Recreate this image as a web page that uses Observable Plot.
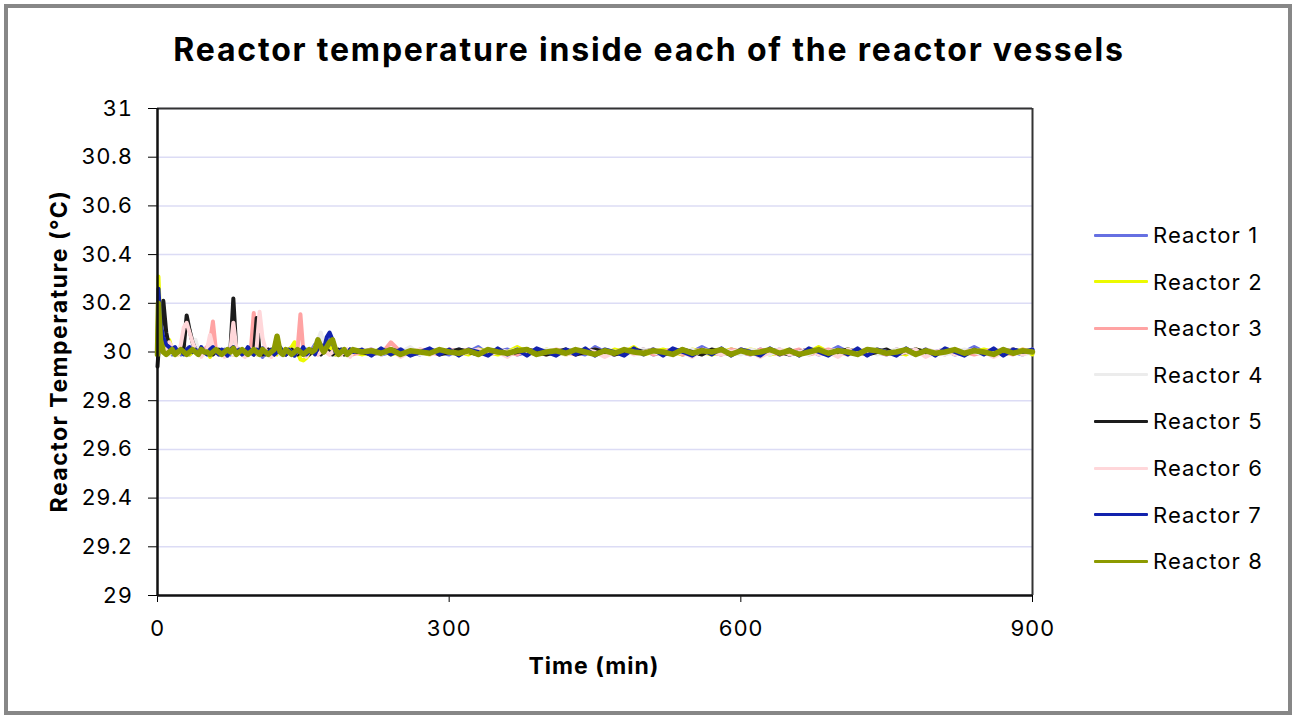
<!DOCTYPE html>
<html>
<head>
<meta charset="utf-8">
<script src="https://cdn.jsdelivr.net/npm/d3@7"></script>
<script src="https://cdn.jsdelivr.net/npm/@observablehq/plot@0.6"></script>
<style>
  html, body { margin: 0; padding: 0; background: #fff; }
  #wrap { position: relative; width: 1292px; height: 715px; overflow: hidden; font-family: Inter, "DejaVu Sans", sans-serif; color: #000; }
  #frame { position: absolute; left: 4px; top: 4px; width: 1288px; height: 711px; box-sizing: border-box; border: 4px solid #878787; pointer-events: none; }
  #chart { position: absolute; left: 0; top: 0; }
  #title { position: absolute; left: 0; top: 30px; width: 1298px; text-align: center; font-weight: 700; font-size: 32px; letter-spacing: 1.8px; line-height: 40px; }
  #ylabel { position: absolute; left: 59px; top: 351px; transform: translate(-50%, -50%) rotate(-90deg); font-weight: 700; font-size: 23px; letter-spacing: 1.5px; white-space: nowrap; }
  #xlabel { position: absolute; left: 594px; top: 666px; transform: translate(-50%, -50%); font-weight: 700; font-size: 23px; letter-spacing: 1px; white-space: nowrap; }
  #legend { position: absolute; left: 1094px; top: 0; }
  .item { position: absolute; left: 0; height: 30px; display: flex; align-items: center; white-space: nowrap; font-size: 22px; letter-spacing: 1.1px; }
  .sw { width: 54px; height: 3px; margin-right: 5px; border-radius: 1px; }
</style>
</head>
<body>
<div id="wrap">
  <div id="chart"></div>
  <div id="title">Reactor temperature inside each of the reactor vessels</div>
  <div id="ylabel">Reactor Temperature (°C)</div>
  <div id="xlabel">Time (min)</div>
  <div id="legend"></div>
  <div id="frame"></div>
</div>
<script>
// ---- Data ----
const reactorNames = ["Reactor 1", "Reactor 2", "Reactor 3", "Reactor 4", "Reactor 5", "Reactor 6", "Reactor 7", "Reactor 8"];
const reactorColors = ["#6670e2", "#ecfa00", "#ffa3a3", "#ececec", "#1c1c1c", "#ffd7da", "#1222ad", "#8c9a00"];
const xTicks = [0, 300, 600, 900];
const yTicks = [29, 29.2, 29.4, 29.6, 29.8, 30, 30.2, 30.4, 30.6, 30.8, 31];

const minutesEarly = [0, 1, 3, 6, 9, 12, 15, 18, 21, 24, 27, 30, 33, 36, 39, 42, 45, 48, 51, 54, 57, 60, 63, 66, 69, 72, 75, 78, 81, 84, 87, 90, 93, 96, 99, 102, 105, 108, 111, 114, 117, 120, 123, 126, 129, 132, 135, 138, 141, 144, 147, 150, 153, 156, 159, 162, 165, 168, 171, 174, 177, 180, 183, 186, 189, 192, 195, 198, 201];
const minutesLate = [210, 220, 230, 240, 250, 260, 270, 280, 290, 300, 310, 320, 330, 340, 350, 360, 370, 380, 390, 400, 410, 420, 430, 440, 450, 460, 470, 480, 490, 500, 510, 520, 530, 540, 550, 560, 570, 580, 590, 600, 610, 620, 630, 640, 650, 660, 670, 680, 690, 700, 710, 720, 730, 740, 750, 760, 770, 780, 790, 800, 810, 820, 830, 840, 850, 860, 870, 880, 890, 900];

const reactor1 = [
  30.00, 30.15, 30.06, 30.02, 30.01, 30.00, 29.99, 30.01, 30.00, 29.99,
  30.01, 30.00, 29.99, 30.00, 30.01, 29.99, 30.00, 30.01, 30.00, 29.99,
  30.00, 30.01, 29.99, 30.00, 30.01, 30.00, 29.99, 30.00, 30.01, 30.00,
  29.99, 30.00, 30.01, 30.00, 29.99, 30.00, 30.01, 29.98, 30.00, 30.01,
  30.00, 29.99, 30.00, 30.01, 30.00, 29.99, 30.00, 30.01, 30.00, 29.99,
  30.00, 29.99, 30.01, 30.00, 30.01, 30.03, 30.02, 30.04, 30.03, 30.05,
  30.06, 30.02, 29.99, 30.00, 30.01, 30.00, 29.99, 30.01, 30.00,
  30.00, 30.01, 29.99, 30.00, 30.01, 30.00, 29.99, 30.01, 30.00, 29.99,
  30.01, 30.00, 30.02, 29.99, 30.00, 30.01, 29.99, 30.00, 30.01, 30.00,
  29.99, 30.01, 30.00, 29.99, 30.02, 30.00, 29.99, 30.01, 30.00, 30.01,
  29.99, 30.00, 30.01, 29.99, 30.00, 30.02, 30.00, 29.99, 30.01, 30.00,
  29.99, 30.01, 30.00, 30.01, 29.99, 30.00, 30.01, 29.99, 30.00, 30.02,
  30.00, 29.99, 30.01, 30.00, 29.99, 30.01, 30.00, 30.01, 29.99, 30.00,
  30.01, 29.99, 30.00, 30.02, 30.00, 29.99, 30.01, 30.00, 29.99, 30.01
];
const reactor2 = [
  30.00, 30.31, 30.10, 30.03, 30.01, 30.05, 30.01, 30.00, 29.99, 30.00,
  30.01, 30.00, 29.99, 30.00, 30.01, 30.00, 29.99, 30.00, 30.01, 29.98,
  30.00, 30.01, 30.00, 29.99, 30.00, 30.01, 30.00, 29.99, 30.00, 30.01,
  30.00, 29.99, 30.00, 30.01, 30.00, 29.99, 30.01, 30.00, 29.99, 30.00,
  30.01, 30.00, 29.99, 30.00, 30.01, 30.00, 30.01, 30.02, 30.04, 30.00,
  29.97, 29.965, 29.975, 29.99, 30.00, 30.02, 30.04, 30.07, 30.02, 30.01,
  30.02, 30.00, 29.99, 30.00, 30.01, 29.99, 30.00, 30.01, 30.00,
  29.99, 30.00, 30.01, 29.99, 30.00, 30.01, 30.00, 29.99, 30.01, 30.00,
  30.00, 29.99, 30.01, 30.00, 29.99, 30.00, 30.02, 30.00, 29.99, 30.01,
  30.00, 29.99, 30.00, 30.01, 30.00, 29.99, 30.01, 30.00, 30.02, 29.99,
  30.00, 30.01, 30.00, 29.99, 30.01, 30.00, 29.99, 30.00, 30.01, 30.00,
  30.01, 30.00, 29.99, 30.00, 30.01, 29.99, 30.00, 30.02, 30.00, 29.99,
  30.01, 30.00, 29.99, 30.01, 30.00, 30.00, 29.99, 30.01, 30.00, 29.99,
  30.00, 30.01, 29.99, 30.00, 30.01, 30.00, 29.99, 30.00, 30.01, 29.99
];
const reactor3 = [
  30.00, 30.05, 30.02, 30.00, 29.99, 30.01, 30.00, 29.99, 30.00, 30.01,
  30.00, 29.99, 30.00, 30.01, 30.00, 29.99, 30.00, 30.01, 30.02, 30.04,
  30.125, 30.01, 30.00, 29.99, 30.00, 30.01, 30.00, 29.99, 30.00, 30.01,
  30.00, 29.99, 30.00, 30.01, 30.16, 30.01, 30.00, 29.99, 30.00, 30.01,
  30.00, 29.99, 30.00, 30.01, 30.00, 29.99, 30.00, 30.01, 30.00, 30.01,
  30.155, 30.00, 29.99, 30.00, 30.01, 30.00, 29.99, 30.00, 30.01, 30.00,
  29.99, 30.00, 30.01, 30.00, 29.99, 30.00, 30.01, 30.00, 29.99,
  30.00, 30.01, 29.99, 30.04, 30.00, 29.99, 30.01, 30.00, 29.99, 30.01,
  30.00, 30.01, 29.99, 30.00, 30.01, 30.00, 29.99, 30.01, 30.00, 29.99,
  30.01, 30.00, 29.99, 30.00, 30.01, 30.00, 29.99, 30.01, 30.00, 30.01,
  29.99, 30.00, 30.01, 29.99, 30.00, 30.01, 30.00, 29.99, 30.01, 30.00,
  29.99, 30.01, 30.00, 29.99, 30.00, 30.01, 29.99, 30.00, 30.01, 30.00,
  29.99, 30.00, 30.01, 30.00, 29.99, 30.01, 30.00, 29.99, 30.01, 30.00,
  29.99, 30.01, 30.00, 29.99, 30.00, 30.01, 30.00, 29.99, 30.01, 30.00
];
const reactor4 = [
  30.00, 30.10, 30.04, 30.01, 30.00, 29.99, 30.00, 30.01, 30.00, 30.02,
  30.03, 30.02, 30.01, 30.03, 30.05, 30.01, 30.00, 29.99, 30.00, 30.01,
  30.00, 30.01, 30.00, 29.99, 30.00, 30.01, 30.00, 29.99, 30.00, 30.01,
  30.00, 29.99, 30.00, 30.01, 30.00, 29.99, 30.00, 30.01, 30.00, 29.99,
  30.00, 30.01, 30.00, 29.99, 30.00, 30.01, 30.00, 29.99, 30.00, 30.01,
  30.00, 29.99, 30.00, 30.01, 30.00, 30.02, 30.05, 30.08, 30.03, 30.01,
  30.00, 29.99, 30.00, 30.01, 30.00, 29.99, 30.00, 30.01, 30.00,
  30.01, 30.00, 29.99, 30.01, 30.00, 30.02, 29.99, 30.00, 30.01, 30.00,
  29.99, 30.01, 30.00, 29.99, 30.01, 30.00, 30.01, 29.99, 30.00, 30.01,
  30.00, 29.99, 30.01, 30.00, 29.99, 30.01, 30.00, 29.99, 30.00, 30.01,
  30.00, 29.99, 30.01, 30.00, 30.01, 29.99, 30.00, 30.01, 30.00, 29.99,
  30.01, 30.00, 29.99, 30.01, 30.00, 30.00, 29.99, 30.01, 30.00, 30.01,
  29.99, 30.00, 30.01, 29.99, 30.00, 30.01, 30.00, 29.99, 30.01, 30.00,
  29.99, 30.00, 30.01, 30.00, 29.99, 30.01, 30.00, 30.01, 29.99, 30.00
];
const reactor5 = [
  29.94, 30.00, 30.05, 30.21, 30.08, 30.02, 30.00, 29.99, 30.00, 30.01,
  30.02, 30.15, 30.09, 30.04, 30.01, 30.00, 29.99, 30.00, 30.01, 30.00,
  29.99, 30.00, 30.01, 30.00, 29.99, 30.00, 30.01, 30.22, 30.01, 30.00,
  29.99, 30.00, 30.01, 30.00, 29.99, 30.14, 30.00, 29.99, 30.00, 30.01,
  30.00, 29.99, 30.00, 30.01, 30.00, 29.99, 30.00, 30.01, 30.00, 29.99,
  30.00, 30.01, 30.00, 29.99, 30.00, 30.01, 30.00, 29.99, 30.00, 30.01,
  30.00, 29.99, 30.00, 30.01, 30.00, 29.99, 30.00, 30.01, 30.00,
  30.00, 29.99, 30.00, 30.01, 30.00, 29.99, 30.00, 30.01, 29.99, 30.00,
  30.01, 30.00, 29.99, 30.01, 30.00, 29.99, 30.00, 30.01, 30.00, 29.99,
  30.00, 30.01, 29.99, 30.00, 30.01, 30.00, 29.99, 30.00, 30.01, 30.00,
  30.01, 29.99, 30.00, 30.01, 30.00, 29.99, 30.01, 30.00, 29.99, 30.01,
  30.00, 29.99, 30.01, 30.00, 29.99, 30.00, 30.01, 30.00, 29.99, 30.00,
  30.01, 30.00, 29.99, 30.00, 30.01, 29.99, 30.00, 30.01, 30.00, 29.99,
  30.01, 30.00, 29.99, 30.01, 30.00, 29.99, 30.00, 30.01, 30.00, 30.00
];
const reactor6 = [
  30.00, 30.08, 30.03, 30.01, 30.00, 30.04, 30.02, 30.00, 29.99, 30.03,
  30.10, 30.12, 30.08, 30.04, 30.01, 30.00, 29.98, 30.00, 30.01, 30.07,
  30.02, 30.00, 29.99, 30.00, 29.98, 30.00, 30.01, 30.12, 30.02, 30.00,
  29.99, 29.98, 30.00, 30.01, 30.00, 30.02, 30.165, 30.06, 30.01, 29.99,
  29.98, 30.00, 30.01, 30.00, 29.99, 30.00, 30.01, 30.00, 29.99, 30.00,
  30.01, 30.00, 29.98, 30.00, 30.01, 30.00, 29.99, 30.00, 30.01, 30.00,
  29.99, 30.00, 30.01, 30.00, 29.99, 30.00, 30.01, 29.98, 30.00,
  30.01, 29.99, 30.00, 30.01, 29.98, 30.00, 30.01, 29.99, 30.00, 30.01,
  29.99, 30.00, 30.01, 29.99, 30.00, 29.98, 30.01, 30.00, 29.99, 30.00,
  30.01, 29.99, 30.00, 30.01, 30.00, 29.98, 30.00, 30.01, 29.99, 30.00,
  30.01, 30.00, 29.99, 30.00, 29.98, 30.01, 30.00, 29.99, 30.00, 30.01,
  30.00, 29.98, 30.00, 30.01, 29.99, 30.00, 30.01, 29.99, 30.00, 29.98,
  30.01, 30.00, 29.99, 30.01, 30.00, 29.99, 30.00, 30.01, 29.98, 30.00,
  30.01, 29.99, 30.00, 30.01, 30.00, 29.98, 30.00, 30.01, 29.99, 30.01
];
const reactor7 = [
  30.00, 30.26, 30.12, 30.06, 30.03, 30.02, 30.01, 30.02, 30.00, 30.01,
  29.99, 30.01, 30.02, 30.00, 30.01, 29.99, 30.02, 30.00, 29.99, 30.01,
  30.02, 30.00, 29.99, 30.01, 30.00, 29.985, 30.01, 30.02, 30.00, 30.01,
  29.99, 30.00, 30.02, 30.00, 29.99, 30.01, 30.00, 30.015, 29.99, 30.00,
  30.01, 29.99, 30.00, 30.02, 30.00, 29.99, 30.01, 30.00, 29.985, 30.01,
  30.00, 30.02, 29.99, 30.00, 30.01, 29.99, 30.02, 30.03, 30.01, 30.06,
  30.08, 30.05, 30.00, 29.99, 30.01, 30.00, 29.99, 30.01, 30.00,
  30.01, 29.985, 30.015, 29.99, 30.01, 29.985, 30.00, 30.015, 29.99, 30.01,
  29.985, 30.01, 30.00, 29.985, 30.015, 29.99, 30.01, 29.985, 30.015, 30.00,
  29.985, 30.01, 29.99, 30.015, 29.985, 30.01, 30.00, 29.985, 30.015, 29.99,
  30.01, 29.985, 30.015, 30.00, 29.985, 30.01, 29.99, 30.015, 29.985, 30.01,
  30.00, 29.985, 30.015, 29.99, 30.01, 29.985, 30.015, 30.00, 29.985, 30.01,
  29.99, 30.015, 29.985, 30.01, 30.00, 29.985, 30.015, 29.99, 30.01, 29.985,
  30.015, 30.00, 29.985, 30.01, 29.99, 30.015, 29.985, 30.01, 30.00, 30.01
];
const reactor8 = [
  29.99, 30.20, 30.05, 30.00, 29.99, 30.00, 30.01, 29.99, 30.00, 30.01,
  30.00, 29.99, 30.00, 30.01, 30.00, 29.99, 30.01, 30.00, 30.00, 29.99,
  30.00, 30.01, 30.00, 29.99, 30.00, 30.01, 30.00, 30.015, 29.99, 30.00,
  30.01, 30.00, 29.99, 30.00, 30.01, 30.00, 29.99, 30.01, 30.00, 29.99,
  30.00, 30.01, 30.065, 30.00, 29.99, 30.01, 30.00, 29.99, 30.00, 30.01,
  30.00, 29.99, 30.00, 30.01, 30.00, 30.01, 30.05, 30.02, 30.00, 30.02,
  30.04, 30.05, 30.01, 29.99, 30.00, 30.01, 29.99, 30.00, 30.01,
  30.00, 30.005, 29.995, 30.01, 29.99, 30.005, 30.00, 29.995, 30.01, 30.00,
  29.995, 30.005, 29.99, 30.01, 30.00, 29.995, 30.005, 30.01, 29.99, 30.00,
  30.005, 29.995, 30.01, 30.00, 29.99, 30.005, 29.995, 30.01, 30.00, 29.995,
  30.005, 30.00, 29.99, 30.01, 29.995, 30.005, 30.00, 30.01, 29.99, 30.005,
  29.995, 30.00, 30.01, 29.995, 30.005, 29.99, 30.00, 30.01, 29.995, 30.005,
  30.00, 29.99, 30.01, 30.005, 29.995, 30.00, 30.01, 29.99, 30.005, 29.995,
  30.00, 30.01, 29.995, 30.005, 30.00, 29.99, 30.01, 29.995, 30.005, 30.00
];

// ---- Build table ----
const minutes = minutesEarly.concat(minutesLate);
const seriesValues = [reactor1, reactor2, reactor3, reactor4, reactor5, reactor6, reactor7, reactor8];
const rows = [];
seriesValues.forEach((vals, k) => {
  vals.forEach((v, i) => rows.push({ reactor: reactorNames[k], minute: minutes[i], temp: v }));
});
const lastName = reactorNames[reactorNames.length - 1];
const rowsBack = rows.filter(d => d.reactor !== lastName);
const rowsFront = rows.filter(d => d.reactor === lastName);

const fmtY = d => (+d.toFixed(1)).toString();

const chart = Plot.plot({
  width: 1292,
  height: 715,
  marginLeft: 157,
  marginRight: 260,
  marginTop: 108,
  marginBottom: 120,
  style: { fontFamily: "Inter, 'DejaVu Sans', sans-serif", fontSize: "22px", color: "#000", background: "transparent", letterSpacing: "0.6px" },
  x: { domain: [0, 900], ticks: xTicks, tickFormat: d => String(d), label: null, tickSize: 7, tickPadding: 18 },
  y: { domain: [29, 31], ticks: yTicks, tickFormat: fmtY, label: null, tickSize: 9, tickPadding: 16 },
  color: { domain: reactorNames, range: reactorColors },
  marks: [
    Plot.gridY(yTicks, { stroke: "#dcdcf5", strokeOpacity: 1, strokeWidth: 1.5 }),
    Plot.ruleY([31], { stroke: "#333", strokeWidth: 2 }),
    Plot.ruleX([900], { stroke: "#333", strokeWidth: 2 }),
    Plot.lineY(rowsBack, { x: "minute", y: "temp", z: "reactor", stroke: "reactor", strokeWidth: 4, strokeLinejoin: "round", strokeLinecap: "round" }),
    Plot.lineY(rowsFront, { x: "minute", y: "temp", z: "reactor", stroke: "reactor", strokeWidth: 5.5, strokeLinejoin: "round", strokeLinecap: "round" }),
    Plot.ruleX([0], { stroke: "#111", strokeWidth: 2.5 }),
    Plot.ruleY([29], { stroke: "#111", strokeWidth: 2.5 })
  ]
});
document.getElementById("chart").appendChild(chart);

// ---- Legend ----
const legend = document.getElementById("legend");
reactorNames.forEach((name, k) => {
  const item = document.createElement("div");
  item.className = "item";
  item.style.top = (235 + k * 46.6 - 15) + "px";
  const sw = document.createElement("div");
  sw.className = "sw";
  sw.style.background = reactorColors[k];
  const lab = document.createElement("span");
  lab.textContent = name;
  item.appendChild(sw);
  item.appendChild(lab);
  legend.appendChild(item);
});
</script>
</body>
</html>
